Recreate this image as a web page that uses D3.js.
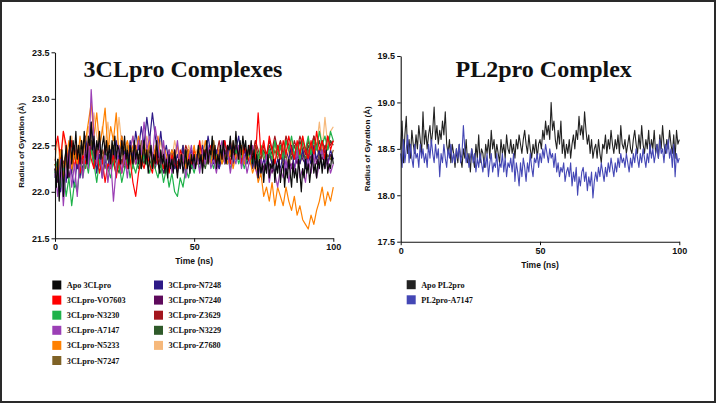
<!DOCTYPE html>
<html><head><meta charset="utf-8">
<script src="https://cdn.jsdelivr.net/npm/d3@7"></script>
<style>
html,body{margin:0;padding:0;background:#fff;}
svg{display:block;}
.tick text{font-family:"Liberation Sans",Arial,sans-serif;font-weight:bold;font-size:9px;fill:#111;}
</style></head>
<body>
<svg id="chart" width="716" height="403"></svg>
<script>
// ---- Data (Rg in Å, evenly sampled over 0..100 ns) ----
const timeSpanNs = 100;
const leftTitle = "3CLpro Complexes";
const rightTitle = "PL2pro Complex";
const xTicks = [0, 50, 100];
const leftYTicks = [21.5, 22.0, 22.5, 23.0, 23.5];
const rightYTicks = [17.5, 18.0, 18.5, 19.0, 19.5];

const leftNames = ["Apo 3CLpro","3CLpro-VO7603","3CLpro-N3230","3CLpro-A7147","3CLpro-N5233","3CLpro-N7247",
  "3CLpro-N7248","3CLpro-N7240","3CLpro-Z3629","3CLpro-N3229","3CLpro-Z7680"];
const leftColors = ["#0a0a0a","#ff0000","#1fb24a","#9b3fb5","#ff8000","#7f6226",
  "#2e1a87","#5e0a5c","#a3161e","#2f5a2a","#f6b87a"];
const leftDrawOrder = ["3CLpro-Z7680","3CLpro-N3229","3CLpro-Z3629","3CLpro-N7240","3CLpro-N7247","3CLpro-N7248",
  "3CLpro-N3230","3CLpro-VO7603","3CLpro-N5233","3CLpro-A7147","Apo 3CLpro"];

// 0.5 ns sampling
const apo3CL = [22.25,22.05,22.35,21.90,22.20,22.45,21.95,22.30,22.50,22.15,22.40,22.60,22.30,22.55,22.40,22.65,22.35,22.50,22.30,22.55,
22.40,22.65,22.45,22.30,22.60,22.50,22.75,22.45,22.60,22.35,22.55,22.45,22.65,22.35,22.50,22.60,22.40,22.55,22.35,22.50,
22.30,22.55,22.40,22.60,22.35,22.50,22.45,22.30,22.55,22.40,22.60,22.35,22.45,22.25,22.50,22.40,22.30,22.55,22.35,22.45,
22.30,22.50,22.25,22.40,22.55,22.30,22.45,22.20,22.35,22.50,22.25,22.40,22.30,22.55,22.35,22.20,22.45,22.30,22.40,22.20,
22.35,22.15,22.40,22.25,22.35,22.20,22.45,22.30,22.15,22.35,22.25,22.40,22.20,22.30,22.45,22.25,22.35,22.20,22.40,22.30,
22.40,22.25,22.35,22.50,22.30,22.40,22.20,22.45,22.35,22.55,22.30,22.45,22.40,22.60,22.35,22.50,22.25,22.40,22.30,22.50,
22.35,22.55,22.40,22.30,22.50,22.45,22.60,22.35,22.55,22.40,22.65,22.45,22.35,22.55,22.40,22.60,22.45,22.55,22.35,22.50,
22.40,22.55,22.30,22.45,22.25,22.40,22.15,22.35,22.20,22.30,22.10,22.30,22.20,22.40,22.15,22.30,22.25,22.35,22.10,22.30,
22.20,22.35,22.10,22.25,22.30,22.05,22.25,22.15,22.35,22.20,22.05,22.30,22.15,22.25,22.10,22.35,22.20,22.00,22.25,22.15,
22.35,22.20,22.30,22.10,22.25,22.40,22.20,22.30,22.15,22.35,22.25,22.40,22.20,22.35,22.25,22.45,22.20,22.30,22.25,22.40,
22.30];
// 1 ns sampling
const vo7603 = [22.45,22.60,22.35,22.65,22.50,22.30,22.55,22.25,22.45,22.20,
22.40,22.30,22.55,22.35,22.25,22.45,22.20,22.35,22.10,22.30,
22.25,22.40,22.15,22.35,22.20,22.40,22.25,22.35,22.10,21.95,
22.20,22.35,22.25,22.40,22.30,22.20,22.45,22.30,22.40,22.25,
22.35,22.20,22.40,22.30,22.25,22.45,22.35,22.25,22.40,22.30,
22.45,22.35,22.55,22.30,22.45,22.35,22.50,22.40,22.30,22.45,
22.35,22.55,22.40,22.30,22.50,22.35,22.45,22.30,22.50,22.40,
22.30,22.45,22.35,22.85,22.40,22.55,22.35,22.60,22.45,22.30,
22.50,22.35,22.55,22.40,22.60,22.45,22.35,22.55,22.40,22.60,
22.45,22.35,22.55,22.40,22.65,22.45,22.55,22.35,22.60,22.45,22.55];
const n3230 = [22.20,22.35,22.05,22.25,21.95,22.15,21.85,22.10,22.00,22.30,
22.15,22.35,22.20,22.45,22.30,22.10,22.35,22.20,22.40,22.25,
22.15,22.35,22.20,22.30,22.10,22.25,22.35,22.15,22.30,22.20,
22.35,22.25,22.40,22.30,22.20,22.35,22.25,22.15,22.30,22.10,
22.25,22.05,22.20,22.00,21.95,22.15,22.05,22.25,22.15,22.30,
22.20,22.35,22.25,22.40,22.30,22.45,22.35,22.25,22.40,22.30,
22.45,22.30,22.40,22.25,22.35,22.45,22.30,22.40,22.25,22.35,
22.40,22.30,22.45,22.35,22.50,22.40,22.30,22.45,22.35,22.55,
22.40,22.50,22.35,22.55,22.45,22.60,22.40,22.50,22.35,22.55,
22.45,22.60,22.40,22.55,22.45,22.65,22.50,22.60,22.45,22.65,22.55];
const a7147 = [22.20,21.95,22.35,21.85,22.25,22.45,22.05,22.30,21.95,22.40,
22.15,22.50,22.25,23.10,22.60,22.30,22.55,22.15,22.45,22.10,
22.35,21.90,22.25,22.50,22.20,22.40,22.15,22.45,22.60,22.30,
22.55,22.40,22.75,22.45,22.60,22.35,22.70,22.50,22.30,22.55,
22.25,22.45,22.20,22.35,22.55,22.25,22.40,22.15,22.35,22.50,
22.25,22.40,22.20,22.45,22.30,22.50,22.25,22.35,22.20,22.40,
22.55,22.30,22.45,22.20,22.40,22.30,22.50,22.25,22.40,22.20,
22.35,22.50,22.25,22.15,22.35,22.20,22.40,22.10,22.30,22.20,
22.05,22.25,22.15,22.35,22.10,22.30,22.20,22.45,22.15,22.25,
22.10,22.35,22.20,22.40,22.15,22.30,22.45,22.25,22.35,22.20,22.30];
const n5233 = [22.30,22.20,22.45,22.15,22.35,22.55,22.25,22.45,22.30,22.60,
22.40,22.55,22.75,22.95,22.60,22.85,22.50,22.65,22.90,22.45,
22.70,22.55,22.85,22.40,22.60,22.45,22.55,22.35,22.50,22.40,
22.60,22.35,22.50,22.40,22.55,22.30,22.45,22.60,22.35,22.50,
22.40,22.30,22.45,22.35,22.50,22.30,22.40,22.25,22.45,22.35,
22.50,22.30,22.45,22.35,22.55,22.40,22.30,22.50,22.35,22.45,
22.30,22.40,22.30,22.45,22.25,22.40,22.35,22.50,22.30,22.40,
22.35,22.20,22.30,22.10,22.20,21.95,22.05,21.90,22.10,21.85,
22.05,21.95,21.85,22.05,21.90,21.80,21.95,21.75,21.85,21.70,
21.65,21.60,21.75,21.65,21.80,21.90,22.05,21.85,22.00,21.90,22.05];
const n7247 = [22.30,22.15,22.40,22.25,22.45,22.30,22.20,22.40,22.30,22.50,
22.35,22.25,22.45,22.55,22.35,22.50,22.30,22.45,22.25,22.40,
22.30,22.50,22.35,22.25,22.45,22.30,22.50,22.40,22.25,22.45,
22.35,22.55,22.40,22.30,22.50,22.35,22.45,22.30,22.40,22.25,
22.35,22.45,22.30,22.40,22.25,22.35,22.50,22.30,22.45,22.35,
22.40,22.30,22.50,22.35,22.45,22.30,22.40,22.55,22.35,22.45,
22.30,22.40,22.35,22.50,22.30,22.45,22.35,22.40,22.30,22.45,
22.35,22.25,22.40,22.30,22.45,22.35,22.25,22.40,22.30,22.45,
22.35,22.50,22.30,22.40,22.25,22.45,22.35,22.50,22.30,22.40,
22.35,22.45,22.30,22.40,22.50,22.35,22.45,22.30,22.40,22.35,22.45];
const n7248 = [22.15,22.35,22.00,22.25,22.10,22.40,22.20,22.05,22.35,22.15,
22.45,22.60,22.30,22.75,22.45,22.20,22.40,22.15,22.35,22.25,
22.45,22.30,22.55,22.35,22.60,22.40,22.25,22.55,22.35,22.65,
22.45,22.70,22.50,22.80,22.55,22.85,22.60,22.40,22.65,22.35,
22.50,22.30,22.45,22.25,22.40,22.30,22.50,22.20,22.35,22.45,
22.25,22.40,22.30,22.50,22.35,22.60,22.40,22.30,22.45,22.25,
22.40,22.55,22.35,22.50,22.30,22.45,22.60,22.35,22.50,22.30,
22.40,22.25,22.45,22.30,22.20,22.35,22.25,22.45,22.30,22.20,
22.35,22.25,22.40,22.20,22.35,22.50,22.25,22.40,22.30,22.45,
22.25,22.40,22.30,22.50,22.35,22.45,22.25,22.40,22.30,22.45,22.35];
const n7240 = [22.25,22.10,22.35,22.20,22.40,22.15,22.30,22.45,22.25,22.35,
22.20,22.40,22.30,22.50,22.25,22.40,22.30,22.20,22.35,22.25,
22.40,22.30,22.20,22.35,22.45,22.30,22.25,22.40,22.30,22.50,
22.35,22.25,22.40,22.30,22.45,22.35,22.25,22.40,22.30,22.20,
22.35,22.25,22.40,22.30,22.20,22.35,22.45,22.30,22.40,22.25,
22.35,22.30,22.45,22.25,22.35,22.40,22.30,22.45,22.35,22.25,
22.40,22.35,22.50,22.30,22.45,22.35,22.40,22.30,22.50,22.35,
22.45,22.30,22.40,22.20,22.35,22.25,22.40,22.30,22.20,22.35,
22.25,22.40,22.30,22.45,22.35,22.25,22.40,22.30,22.45,22.35,
22.30,22.45,22.35,22.50,22.30,22.40,22.35,22.45,22.30,22.40,22.35];
const z3629 = [22.35,22.25,22.45,22.30,22.40,22.25,22.35,22.50,22.30,22.40,
22.30,22.45,22.35,22.55,22.40,22.30,22.45,22.35,22.50,22.40,
22.30,22.45,22.35,22.40,22.30,22.45,22.35,22.50,22.40,22.30,
22.40,22.30,22.45,22.35,22.50,22.40,22.30,22.45,22.35,22.40,
22.30,22.40,22.35,22.45,22.30,22.40,22.35,22.50,22.40,22.30,
22.45,22.35,22.50,22.40,22.30,22.45,22.35,22.50,22.40,22.55,
22.35,22.45,22.40,22.55,22.35,22.50,22.40,22.30,22.45,22.35,
22.50,22.40,22.55,22.45,22.35,22.50,22.40,22.55,22.45,22.60,
22.45,22.55,22.40,22.60,22.50,22.40,22.55,22.45,22.60,22.50,
22.40,22.55,22.45,22.60,22.50,22.40,22.55,22.45,22.60,22.50,22.55];
const n3229 = [22.30,22.20,22.40,22.25,22.35,22.15,22.30,22.40,22.25,22.35,
22.25,22.40,22.30,22.45,22.35,22.25,22.40,22.30,22.45,22.35,
22.25,22.40,22.30,22.20,22.35,22.25,22.40,22.30,22.45,22.35,
22.25,22.40,22.30,22.45,22.35,22.25,22.40,22.30,22.20,22.35,
22.25,22.35,22.30,22.40,22.25,22.35,22.30,22.45,22.35,22.25,
22.40,22.30,22.45,22.35,22.25,22.40,22.35,22.50,22.30,22.40,
22.35,22.45,22.30,22.40,22.35,22.50,22.40,22.30,22.45,22.35,
22.40,22.30,22.50,22.40,22.35,22.45,22.35,22.50,22.40,22.55,
22.40,22.50,22.35,22.55,22.45,22.35,22.50,22.40,22.55,22.45,
22.35,22.50,22.40,22.60,22.45,22.55,22.40,22.50,22.45,22.55,22.50];
const z7680 = [22.35,22.55,22.25,22.65,22.40,22.30,22.60,22.35,22.50,22.25,
22.55,22.40,22.70,22.50,22.85,22.60,22.45,22.70,22.50,22.75,
22.40,22.60,22.45,22.80,22.50,22.35,22.55,22.40,22.60,22.45,
22.35,22.50,22.40,22.60,22.45,22.30,22.50,22.35,22.55,22.40,
22.30,22.45,22.35,22.55,22.40,22.30,22.45,22.35,22.50,22.40,
22.30,22.45,22.35,22.55,22.30,22.45,22.40,22.55,22.35,22.50,
22.40,22.30,22.45,22.35,22.55,22.40,22.50,22.35,22.45,22.30,
22.50,22.40,22.55,22.35,22.50,22.40,22.30,22.45,22.35,22.50,
22.40,22.55,22.45,22.60,22.40,22.55,22.35,22.50,22.45,22.60,
22.40,22.55,22.45,22.60,22.50,22.75,22.45,22.80,22.50,22.65,22.70];
const leftValues = [apo3CL, vo7603, n3230, a7147, n5233, n7247, n7248, n7240, z3629, n3229, z7680];

const rightNames = ["Apo PL2pro","PL2pro-A7147"];
const rightColors = ["#222222","#4447b5"];
const rightDrawOrder = ["Apo PL2pro","PL2pro-A7147"];
// 0.5 ns sampling
const apoPL2 = [18.50,18.80,18.35,18.65,18.85,18.45,18.60,18.40,18.70,18.55,18.45,18.65,18.50,18.75,18.60,18.45,18.90,18.55,18.70,18.50,
18.65,18.75,18.55,18.70,18.95,18.60,18.75,18.55,18.70,18.60,18.80,18.65,18.90,18.55,18.45,18.60,18.35,18.55,18.45,18.30,
18.50,18.35,18.55,18.40,18.30,18.50,18.40,18.60,18.35,18.45,18.25,18.50,18.40,18.30,18.55,18.40,18.65,18.35,18.50,18.45,
18.30,18.55,18.45,18.60,18.40,18.70,18.50,18.60,18.40,18.55,18.45,18.35,18.60,18.45,18.55,18.40,18.65,18.50,18.45,18.60,
18.45,18.55,18.40,18.60,18.50,18.65,18.55,18.45,18.60,18.70,18.55,18.45,18.65,18.50,18.40,18.55,18.45,18.60,18.40,18.55,
18.60,18.50,18.70,18.60,18.80,18.65,18.75,18.60,19.00,18.70,18.80,18.60,18.50,18.70,18.55,18.80,18.45,18.60,18.40,18.55,
18.45,18.60,18.40,18.55,18.65,18.50,18.70,18.60,18.85,18.65,18.75,18.60,18.90,18.70,18.55,18.65,18.45,18.60,18.40,18.50,
18.55,18.40,18.60,18.45,18.35,18.55,18.50,18.65,18.45,18.60,18.50,18.70,18.55,18.45,18.60,18.50,18.65,18.45,18.75,18.55,
18.50,18.60,18.45,18.55,18.65,18.50,18.45,18.60,18.70,18.55,18.45,18.65,18.50,18.75,18.55,18.45,18.60,18.50,18.70,18.45,
18.60,18.50,18.70,18.45,18.55,18.40,18.65,18.50,18.75,18.55,18.45,18.60,18.50,18.70,18.55,18.45,18.65,18.40,18.70,18.55,
18.60];
const pl2A7147 = [18.45,18.30,18.60,18.35,18.50,18.65,18.35,18.55,18.40,18.30,18.55,18.40,18.45,18.30,18.55,18.40,18.50,18.35,18.45,18.30,
18.55,18.40,18.60,18.45,18.35,18.55,18.40,18.50,18.20,18.45,18.35,18.55,18.40,18.30,18.50,18.40,18.55,18.35,18.45,18.35,
18.50,18.40,18.55,18.35,18.45,18.75,18.50,18.35,18.45,18.30,18.40,18.50,18.35,18.45,18.25,18.40,18.30,18.45,18.35,18.25,
18.40,18.30,18.45,18.20,18.35,18.45,18.25,18.35,18.30,18.45,18.20,18.35,18.30,18.45,18.25,18.40,18.20,18.35,18.30,18.40,
18.25,18.45,18.15,18.35,18.25,18.10,18.35,18.20,18.40,18.30,18.15,18.35,18.25,18.45,18.30,18.20,18.40,18.35,18.45,18.30,
18.45,18.35,18.50,18.40,18.55,18.45,18.35,18.50,18.40,18.45,18.30,18.45,18.25,18.35,18.20,18.30,18.25,18.35,18.15,18.25,
18.30,18.20,18.35,18.10,18.25,18.15,18.30,18.00,18.20,18.10,18.25,18.30,18.15,18.25,18.05,18.20,18.10,18.25,17.97,18.15,
18.25,18.15,18.30,18.20,18.35,18.25,18.15,18.30,18.20,18.35,18.25,18.40,18.30,18.20,18.35,18.25,18.40,18.30,18.45,18.35,
18.40,18.30,18.45,18.35,18.25,18.40,18.30,18.45,18.35,18.50,18.40,18.30,18.45,18.35,18.50,18.40,18.30,18.45,18.35,18.55,
18.40,18.50,18.35,18.45,18.55,18.40,18.60,18.45,18.50,18.35,18.55,18.45,18.60,18.40,18.50,18.30,18.55,18.20,18.45,18.35,
18.40];
const rightValues = [apoPL2, pl2A7147];

// ---- Drawing ----
const svg = d3.select("#chart");
svg.append("rect").attr("x",1).attr("y",1).attr("width",714).attr("height",401)
  .attr("fill","#fff").attr("stroke","#2a2a2a").attr("stroke-width",2);

function panel(cfg){
  const x = d3.scaleLinear().domain([0,timeSpanNs]).range([cfg.x0, cfg.x1]);
  const y = d3.scaleLinear().domain(cfg.yDomain).range([cfg.y1, cfg.y0]);
  const g = svg.append("g");
  cfg.order.forEach(name=>{
    const k = cfg.names.indexOf(name);
    const vals = cfg.values[k];
    const step = timeSpanNs/(vals.length-1);
    const line = d3.line().x((d,i)=>x(i*step)).y(d=>y(d));
    g.append("path").datum(vals).attr("d",line)
      .attr("fill","none").attr("stroke",cfg.colors[k]).attr("stroke-width",cfg.sw)
      .attr("stroke-linejoin","round");
  });
  const ax = g.append("g").attr("transform",`translate(0,${cfg.y1})`);
  ax.call(d3.axisBottom(x).tickValues(d3.range(0,101,5)).tickSize(2).tickFormat(""));
  ax.call(d3.axisBottom(x).tickValues(xTicks).tickSize(3.5).tickSizeOuter(0).tickFormat(d3.format("d")));
  ax.selectAll("text").attr("dy","0.6em");
  const ay = g.append("g").attr("transform",`translate(${cfg.x0},0)`);
  const minor = d3.range(0,41).map(i=>cfg.yDomain[0]+i*0.05);
  ay.call(d3.axisLeft(y).tickValues(minor).tickSize(1.6).tickFormat(""));
  ay.call(d3.axisLeft(y).tickValues(cfg.yTicks).tickSize(3.5).tickSizeOuter(0).tickFormat(d3.format(".1f")));
  ay.selectAll("text").attr("dx","0.1em");
  g.selectAll(".domain").attr("stroke","#111").attr("stroke-width",1.1);
  g.selectAll(".tick line").attr("stroke","#111");
  g.append("text").attr("x",(cfg.x0+cfg.x1)/2).attr("y",cfg.y1+26).attr("text-anchor","middle")
    .style("font-family","Liberation Sans, Arial, sans-serif").style("font-weight","bold").style("font-size","8.5px")
    .attr("fill","#111").text("Time (ns)");
  g.append("text").attr("transform",`translate(${cfg.ytitleX},${(cfg.y0+cfg.y1)/2}) rotate(-90)`)
    .attr("text-anchor","middle").attr("dy","0.35em")
    .style("font-family","Liberation Sans, Arial, sans-serif").style("font-weight","bold").style("font-size","8px")
    .attr("fill","#111").text("Radius of Gyration (Å)");
  g.append("text").attr("x",cfg.titleX).attr("y",cfg.titleY).attr("text-anchor","middle")
    .style("font-family","Liberation Serif, Times New Roman, serif").style("font-weight","bold").style("font-size","24px")
    .attr("fill","#111").text(cfg.title);
  cfg.names.forEach((name,k)=>{
    const col = Math.floor(k/cfg.perCol), row = k%cfg.perCol;
    const lx = cfg.legX + col*cfg.legColW, ly = cfg.legY + row*15.1;
    g.append("rect").attr("x",lx).attr("y",ly-4.5).attr("width",9).attr("height",9).attr("fill",cfg.colors[k]);
    g.append("text").attr("x",lx+14.5).attr("y",ly+3)
      .style("font-family","Liberation Serif, Times New Roman, serif").style("font-weight","bold").style("font-size","8.2px")
      .attr("fill","#111").text(name);
  });
}

panel({x0:55,x1:333.3,y0:52.3,y1:238.3,yDomain:[21.5,23.5],yTicks:leftYTicks,sw:1.2,
  names:leftNames,colors:leftColors,values:leftValues,order:leftDrawOrder,
  title:leftTitle,titleX:183,titleY:77,ytitleX:21,legX:52.3,legY:285,perCol:6,legColW:101.7});
panel({x0:400.7,x1:679.3,y0:56,y1:241.7,yDomain:[17.5,19.5],yTicks:rightYTicks,sw:1.1,
  names:rightNames,colors:rightColors,values:rightValues,order:rightDrawOrder,
  title:rightTitle,titleX:543.7,titleY:77,ytitleX:366.7,legX:406.7,legY:284.7,perCol:6,legColW:100});
</script>
</body></html>
